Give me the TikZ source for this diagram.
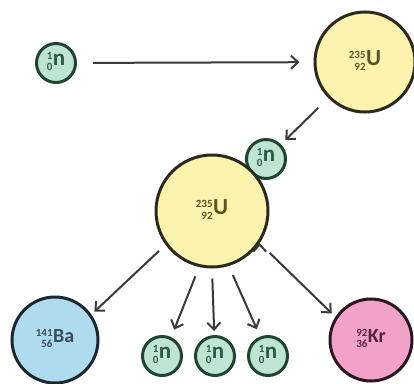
\documentclass[tikz,border=0pt]{standalone}
\usepackage{fontspec}
\setmainfont{Carlito}
\usepackage{xcolor}
\usetikzlibrary{positioning, arrows.meta}

\definecolor{nfill}{HTML}{BEE5D1}
\definecolor{nline}{HTML}{1F4530}
\definecolor{ntext}{HTML}{2C5C42}
\definecolor{ufill}{HTML}{FBF3AE}
\definecolor{uline}{HTML}{2A2A1E}
\definecolor{utext}{HTML}{5C5322}
\definecolor{bafill}{HTML}{AEDCEE}
\definecolor{baline}{HTML}{1C272E}
\definecolor{batext}{HTML}{3B4B5C}
\definecolor{krfill}{HTML}{F2A2C9}
\definecolor{krline}{HTML}{2A1821}
\definecolor{krtext}{HTML}{5C2242}
\definecolor{arrowgray}{HTML}{3A3A3A}

% mass number over atomic number, then the symbol
\newcommand{\iso}[4]{{\fontsize{#4}{#4}\selectfont
  \begin{tabular}{@{}r@{}}#1\\[0.05em]#2\end{tabular}}\hspace{0.5pt}#3}

\begin{document}
\begin{tikzpicture}[x=1pt, y=-1pt, ->, >={Straight Barb[length=7pt,width=13pt]},
    arr/.style={draw=arrowgray, line width=2pt},
    nucleus/.style={circle, line width=3pt, inner sep=0pt},
    neutron/.style={nucleus, fill=nfill, draw=nline, text=ntext, minimum size=39pt,
      font=\fontsize{23}{23}\selectfont\bfseries},
    uranium/.style={nucleus, fill=ufill, draw=uline, text=utext, minimum size=100pt,
      font=\fontsize{23}{23}\selectfont\bfseries},
    barium/.style={nucleus, fill=bafill, draw=baline, text=batext, minimum size=86pt,
      font=\fontsize{20}{20}\selectfont\bfseries},
    krypton/.style={nucleus, fill=krfill, draw=krline, text=krtext, minimum size=82pt,
      font=\fontsize{20}{20}\selectfont\bfseries}]
  \useasboundingbox (0,0) rectangle (414,383);

  \node[neutron] (n0) at (56,63) {\iso{1}{0}{n}{11}};
  \node[uranium] (u1) at (365,62) {\iso{235}{92}{U}{11}};
  \node[neutron] (n1) at (266,159) {\iso{1}{0}{n}{11}};
  \node[uranium, minimum size=112pt] (u2) at (212,211) {\iso{235}{92}{U}{11}};
  \node[barium] (ba) at (55,340) {\iso{141}{56}{Ba}{11}};
  \node[neutron] (s1) at (162,356) {\iso{1}{0}{n}{11}};
  \node[neutron] (s2) at (215,356) {\iso{1}{0}{n}{11}};
  \node[neutron] (s3) at (268,356) {\iso{1}{0}{n}{11}};
  \node[krypton] (kr) at (371,340) {\iso{92}{36}{Kr}{11}};

  \path[arr] (n0) edge[shorten <=16pt, shorten >=14pt] (u1)
        (u1) edge[shorten <=14pt, shorten >=6pt] (n1)
        (u2.216) edge[shorten <=9pt, shorten >=4pt] (ba.35)
        (u2.257) edge[shorten <=10pt, shorten >=8pt] (s1.64)
        (u2.270) edge[shorten <=10pt, shorten >=4pt] (s2.92)
        (u2.287) edge[shorten <=10pt, shorten >=8pt] (s3.112)
        (u2.326) edge[shorten <=14pt, shorten >=5pt] (kr.147);
\end{tikzpicture}
\end{document}
